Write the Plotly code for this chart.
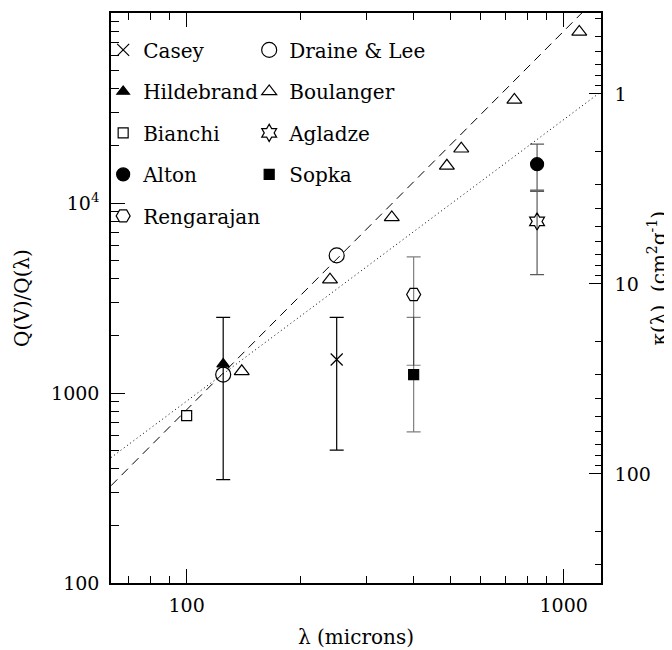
import math
import plotly.graph_objects as go

# ---------------- data ----------------
casey_lam = [250]
casey_q = [1500]
casey_hi = [2500]
casey_lo = [500]

hild_lam = [125]
hild_q = [1420]
hild_hi = [2500]
hild_lo = [350]

bianchi_lam = [100]
bianchi_q = [760]

alton_lam = [850]
alton_q = [16000]
alton_hi = [20400]
alton_lo = [11700]

reng_lam = [400]
reng_q = [3300]
reng_hi = [5200]
reng_lo = [1400]

draine_lam = [125, 250]
draine_q = [1250, 5300]

boul_lam = [140, 240, 350, 490, 535, 740, 1100]
boul_q = [1300, 3950, 8400, 15700, 19300, 34900, 79500]

agl_lam = [850]
agl_q = [8000]
agl_hi = [11500]
agl_lo = [4200]

sopka_lam = [400]
sopka_q = [1250]
sopka_hi = [2500]
sopka_lo = [625]

# model lines (end points of the power laws)
dashed_lam = [63, 1117]
dashed_q = [325, 100000]
dotted_lam = [63, 1256]
dotted_q = [457, 38500]

# axis definitions
x_range = [63, 1256]
q_range = [100, 100000]
kappa_one_at_q = 37500  # Q(V)/Q(lambda) where kappa = 1 cm^2/g

x_major = [100, 1000]
x_major_text = ["100", "1000"]
x_minor = [70, 80, 90, 200, 300, 400, 500, 600, 700, 800, 900]
q_major = [100, 1000, 10000, 100000]
q_major_text = ["100", "1000", "10<sup>4</sup>", "10<sup>5</sup>"]
q_minor = [m * d for d in (100, 1000, 10000) for m in range(2, 10)]
k_major = [1, 10, 100]
k_major_text = ["1", "10", "100"]
k_minor = [0.4, 0.5, 0.6, 0.7, 0.8, 0.9] + [m * d for d in (1, 10) for m in range(2, 10)] + [200, 300]

FONT = "'DejaVu Serif', 'Liberation Serif', serif"
FS = 19
LFS = 20


def err(q, hi, lo):
    return dict(type="data", symmetric=False,
                array=[h - v for h, v in zip(hi, q)],
                arrayminus=[v - l for v, l in zip(q, lo)])


fig = go.Figure()

fig.add_trace(go.Scatter(x=dashed_lam, y=dashed_q, mode="lines",
                         line=dict(color="black", width=1, dash="9px,6px"), showlegend=False))
fig.add_trace(go.Scatter(x=dotted_lam, y=dotted_q, mode="lines",
                         line=dict(color="black", width=1, dash="1px,3px"), showlegend=False))


def add(name, xs, ys, symbol, size, legend, group, e=None, ecolor="black", lw=1.2):
    tr = go.Scatter(x=xs, y=ys, mode="markers", name=name, legend=legend, legendgroup=group,
                    marker=dict(symbol=symbol, size=size, color="black",
                                line=dict(color="black", width=lw)))
    if e is not None:
        e.update(color=ecolor, thickness=1.2, width=7)
        tr.error_y = e
    fig.add_trace(tr)


add("Casey", casey_lam, casey_q, "x-thin-open", 12, "legend", "g1", err(casey_q, casey_hi, casey_lo))
add("Hildebrand", hild_lam, hild_q, "triangle-up", 11, "legend", "g2", err(hild_q, hild_hi, hild_lo))
add("Bianchi", bianchi_lam, bianchi_q, "square-open", 10, "legend", "g3")
add("Alton", alton_lam, alton_q, "circle", 13, "legend", "g4", err(alton_q, alton_hi, alton_lo), "rgba(0,0,0,0.65)")
add("Rengarajan", reng_lam, reng_q, "hexagon2-open", 14, "legend", "g5", err(reng_q, reng_hi, reng_lo), "rgba(0,0,0,0.5)")
add("Draine & Lee", draine_lam, draine_q, "circle-open", 15, "legend2", "h1")
add("Boulanger", boul_lam, boul_q, "triangle-up-open", 13, "legend2", "h2")
add("Agladze", agl_lam, agl_q, "hexagram-open", 13, "legend2", "h3", err(agl_q, agl_hi, agl_lo), "rgba(0,0,0,0.65)")
add("Sopka", sopka_lam, sopka_q, "square", 10, "legend2", "h4", err(sopka_q, sopka_hi, sopka_lo), "rgba(0,0,0,0.5)")

# empty traces so the kappa axis and top axis are attached
fig.add_trace(go.Scatter(x=[None], y=[None], yaxis="y2", showlegend=False))
fig.add_trace(go.Scatter(x=[None], y=[None], xaxis="x2", showlegend=False))

lg = lambda x: math.log10(x)
tickfont = dict(family=FONT, size=FS, color="black")

# the page body adds an 8 px offset; the plot area sits at x 111-601, y 13-586 on screen
W, H = 664, 642
ML, MT = 103, 5
PW, PH = 490, 573
MR = W - ML - PW
MB = H - MT - PH

fig.update_layout(
    width=W, height=H,
    margin=dict(l=ML, r=MR, t=MT, b=MB),
    paper_bgcolor="white", plot_bgcolor="white",
    font=dict(family=FONT, size=FS, color="black"),
    xaxis=dict(type="log", range=[lg(x_range[0]), lg(x_range[1])],
               tickmode="array", tickvals=x_major, ticktext=x_major_text,
               ticks="inside", ticklen=14, tickwidth=1, tickcolor="black",
               showline=True, linecolor="black", linewidth=1.5,
               showgrid=False, zeroline=False, tickfont=tickfont, ticklabelstandoff=4,
               minor=dict(tickmode="array", tickvals=x_minor, ticks="inside", ticklen=7,
                          tickwidth=1, tickcolor="black", showgrid=False),
               title=dict(text="λ (microns)", font=dict(family=FONT, size=20), standoff=15)),
    xaxis2=dict(type="log", range=[lg(x_range[0]), lg(x_range[1])], overlaying="x", side="top",
                anchor="y",
                tickmode="array", tickvals=x_major, showticklabels=False,
                ticks="inside", ticklen=14, tickwidth=1, tickcolor="black",
                showline=True, linecolor="black", linewidth=1.5,
                showgrid=False, zeroline=False,
                minor=dict(tickmode="array", tickvals=x_minor, ticks="inside", ticklen=7,
                           tickwidth=1, tickcolor="black", showgrid=False)),
    yaxis=dict(type="log", range=[lg(q_range[0]), lg(q_range[1])],
               tickmode="array", tickvals=q_major, ticktext=q_major_text,
               ticks="inside", ticklen=14, tickwidth=1, tickcolor="black",
               showline=True, linecolor="black", linewidth=1.5,
               showgrid=False, zeroline=False, tickfont=tickfont, ticklabelstandoff=6,
               minor=dict(tickmode="array", tickvals=q_minor, ticks="inside", ticklen=8,
                          tickwidth=1, tickcolor="black", showgrid=False),
               title=dict(text="Q(V)/Q(λ)", font=dict(family=FONT, size=20), standoff=16)),
    yaxis2=dict(type="log", overlaying="y", side="right", anchor="x",
                range=[lg(kappa_one_at_q / q_range[0]), lg(kappa_one_at_q / q_range[1])],
                tickmode="array", tickvals=k_major, ticktext=k_major_text,
                ticks="inside", ticklen=12, tickwidth=1, tickcolor="black",
                showline=True, linecolor="black", linewidth=1.5,
                showgrid=False, zeroline=False, tickfont=tickfont, ticklabelstandoff=8,
                minor=dict(tickmode="array", tickvals=k_minor, ticks="inside", ticklen=6,
                           tickwidth=1, tickcolor="black", showgrid=False)),
    legend=dict(x=-0.016, y=0.9695, xanchor="left", yanchor="top", bgcolor="rgba(0,0,0,0)",
                font=dict(family=FONT, size=LFS), tracegroupgap=12.5, itemsizing="trace",
                itemwidth=30),
    legend2=dict(x=0.282, y=0.9695, xanchor="left", yanchor="top", bgcolor="rgba(0,0,0,0)",
                 font=dict(family=FONT, size=LFS), tracegroupgap=12.5, itemsizing="trace",
                 itemwidth=30),
    annotations=[dict(text="κ(λ)  (cm<sup>2</sup>g<sup>-1</sup>)", textangle=-90,
                      xref="paper", yref="paper", x=(657 - 111) / PW, y=(586 - 280) / PH,
                      xanchor="center", yanchor="middle", showarrow=False,
                      font=dict(family=FONT, size=20))],
)

fig.write_html("out.html")
